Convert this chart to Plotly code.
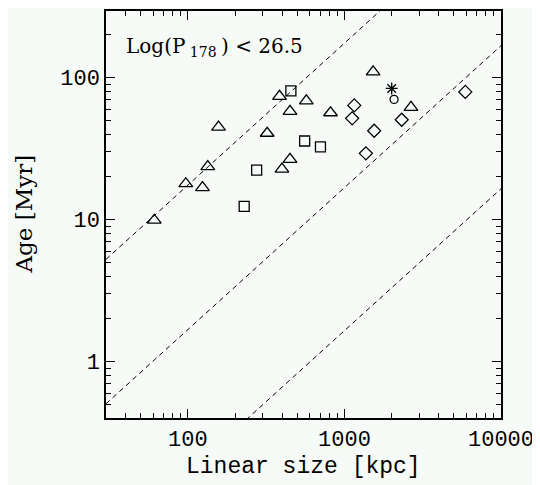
import numpy as np
import plotly.graph_objects as go

# Log(P178) < 26.5 sample
tri_size = [61, 97, 124, 134, 157, 321, 385, 399, 449, 449, 571, 815, 1525, 2661]
tri_age = [9.9, 17.9, 16.8, 23.6, 44.9, 40.6, 73.8, 22.7, 57.9, 26.6, 68.7, 56.6, 110, 61.8]

sq_size = [455, 275, 229, 557, 703]
sq_age = [80.7, 22.3, 12.4, 35.8, 32.5]

dia_size = [1156, 1120, 1549, 1371, 2322, 5916]
dia_age = [63.8, 51.7, 42.3, 29.3, 50.5, 79.4]

circ_size = [2075]
circ_age = [70.3]

star_size = [2004]
star_age = [84]

# age = k * size reference lines
line_k = [0.175, 0.0168, 0.00165]
line_size = [30, 10000]

x_major = [100, 1000, 10000]
y_major = [1, 10, 100]

fig = go.Figure()

for k in line_k:
    fig.add_trace(go.Scatter(
        x=line_size, y=[k * s for s in line_size],
        mode="lines", line=dict(color="black", width=1, dash="5px,4px"),
        hoverinfo="skip",
    ))

marker_line = dict(color="black", width=1.3)
groups = [
    (tri_size, tri_age, "triangle-up-open", 12),
    (sq_size, sq_age, "square-open", 10),
    (dia_size, dia_age, "diamond-open", 10),
    (circ_size, circ_age, "circle-open", 8),
    (star_size, star_age, "asterisk-open", 10),
]
for xs, ys, sym, sz in groups:
    fig.add_trace(go.Scatter(
        x=xs, y=ys, mode="markers",
        marker=dict(symbol=sym, size=sz, color="black", line=marker_line),
    ))

# label inside the frame
fig.add_annotation(
    x=0.046, y=0.912, xref="paper", yref="paper", xanchor="left", yanchor="middle",
    text="Log(P<sub> 178 </sub>) &lt; 26.5", showarrow=False,
    font=dict(family="DejaVu Serif", size=20, color="black"),
)
# axis titles
fig.add_annotation(
    x=0.5, y=0, xref="paper", yref="paper", xanchor="center", yanchor="middle",
    yshift=-49, text="Linear size [kpc]", showarrow=False,
    font=dict(family="Liberation Mono", size=23, color="black"),
)
fig.add_annotation(
    x=0, y=0.5, xref="paper", yref="paper", xanchor="center", yanchor="middle",
    xshift=-83, textangle=-90, text="Age [Myr]", showarrow=False,
    font=dict(family="DejaVu Serif", size=23, color="black"),
)

def minor_vals(lo, hi):
    vals = []
    for dec in range(lo, hi):
        vals += [m * 10.0 ** dec for m in range(2, 10)]
    return vals

axis_common = dict(
    type="log", showgrid=False, zeroline=False, automargin=False,
    showline=True, linecolor="black", linewidth=1.5, mirror="ticks",
    ticks="inside", ticklen=9, tickwidth=1.2, tickcolor="black",
    tickfont=dict(family="Liberation Mono", size=22, color="black"),
)

fig.update_xaxes(
    **axis_common,
    range=[np.log10(30), 4],
    tickvals=x_major, ticktext=[str(v) for v in x_major],
    minor=dict(tickvals=minor_vals(1, 4), ticks="inside", ticklen=5,
               tickwidth=1, tickcolor="black", showgrid=False),
)
fig.update_yaxes(
    **axis_common,
    range=[np.log10(0.4), np.log10(295)],
    tickvals=y_major, ticktext=[str(v) for v in y_major],
    minor=dict(tickvals=minor_vals(-1, 3), ticks="inside", ticklen=5,
               tickwidth=1, tickcolor="black", showgrid=False),
)

# the page body has an 8px margin, so the frame is pulled up/left by that much
fig.update_layout(
    width=540, height=485,
    margin=dict(l=98, r=47, t=3, b=75),
    paper_bgcolor="#f7fbf7", plot_bgcolor="#f7fbf7",
    showlegend=False,
)

fig.write_html("out.html")
